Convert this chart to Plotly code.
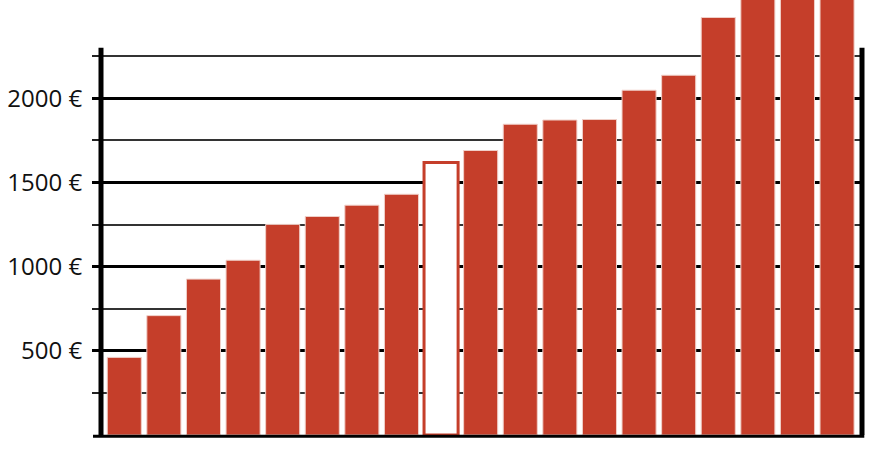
import plotly.graph_objects as go

# Data
categories = list(range(19))
values = [461, 709, 926, 1038, 1251, 1298, 1365, 1430, 1618, 1690, 1846, 1871, 1874,
          2048, 2137, 2480, 2650, 2700, 2750]
highlight_index = 8
tick_values = [500, 1000, 1500, 2000]
tick_labels = ["500 €", "1000 €", "1500 €", "2000 €"]
minor_tick_values = [250, 750, 1250, 1750, 2250]
axis_top = 2300

RED = "#C53E2A"
fill_colors = ["white" if i == highlight_index else RED for i in categories]
line_colors = [RED if i == highlight_index else "#F0CFC8" for i in categories]
line_widths = [3 if i == highlight_index else 1 for i in categories]

fig = go.Figure()
fig.add_trace(go.Bar(
    x=categories, y=values,
    marker=dict(color=fill_colors, line=dict(color=line_colors, width=line_widths)),
    hoverinfo="skip",
))

# frame lines: left/right vertical axis lines up to axis_top, bottom baseline
fig.add_shape(type="line", xref="paper", yref="y", x0=0, x1=0, y0=0, y1=axis_top,
              line=dict(color="black", width=5), layer="above")
fig.add_shape(type="line", xref="paper", yref="y", x0=1, x1=1, y0=0, y1=axis_top,
              line=dict(color="black", width=5), layer="above")
fig.add_shape(type="line", xref="paper", yref="paper", x0=-0.0105, x1=1.003,
              y0=-0.003, y1=-0.003, line=dict(color="black", width=3), layer="above")

fig.update_layout(
    width=872, height=453,
    margin=dict(l=101, r=10, t=0, b=18, autoexpand=False),
    paper_bgcolor="white", plot_bgcolor="white",
    bargap=0.14,
    showlegend=False,
    font=dict(family="Open Sans, sans-serif", size=24, color="#111"),
    xaxis=dict(
        range=[-0.588, 18.63], showticklabels=False, ticks="", showgrid=False,
        zeroline=False, showline=False, automargin=False, fixedrange=True,
    ),
    yaxis=dict(
        range=[0, 2584], tickmode="array", tickvals=tick_values, ticktext=tick_labels,
        ticks="outside", ticklen=8, tickwidth=3, tickcolor="black",
        showgrid=True, gridcolor="black", gridwidth=3,
        zeroline=False, showline=False, automargin=False,
        ticklabelstandoff=5,
        minor=dict(tickmode="array", tickvals=minor_tick_values, ticks="outside",
                   ticklen=8, tickwidth=2, tickcolor="#222",
                   showgrid=True, gridcolor="#333", gridwidth=2),
        fixedrange=True,
    ),
)

fig.write_html(
    "out.html",
    config={"displayModeBar": False},
    post_script="document.body.style.margin='0';document.body.style.overflow='hidden';",
)
